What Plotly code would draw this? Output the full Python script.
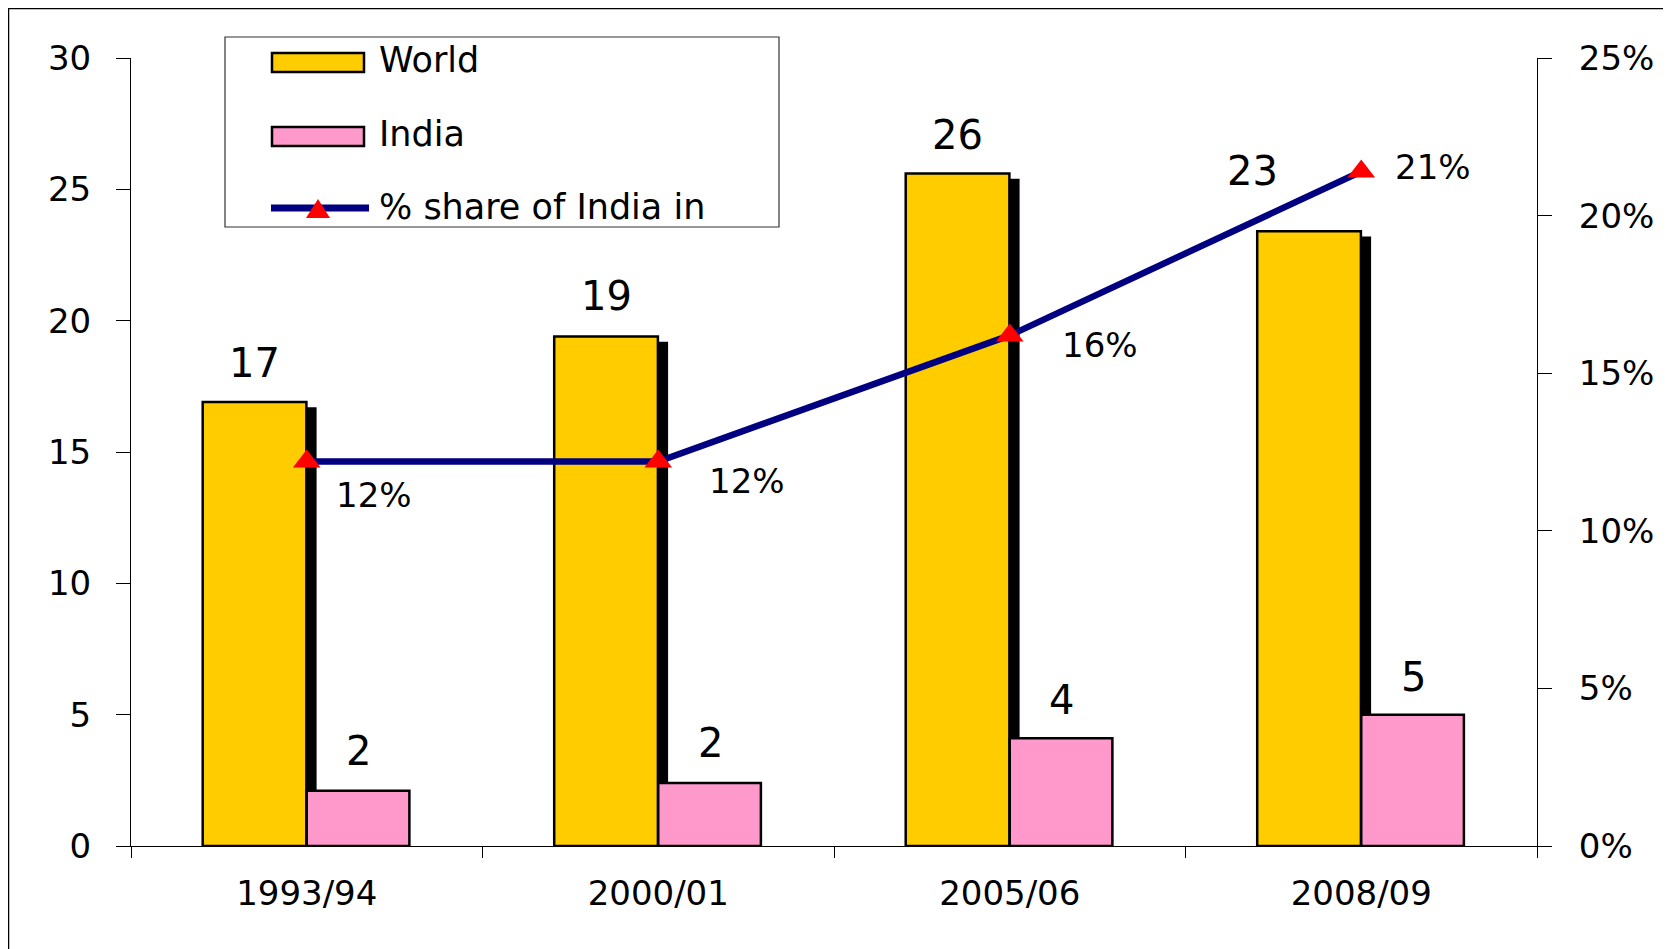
import plotly.graph_objects as go

# data
years = ["1993/94", "2000/01", "2005/06", "2008/09"]
world = [16.9, 19.4, 25.6, 23.4]
india = [2.1, 2.4, 4.1, 5.0]
share_pct = [12.2, 12.2, 16.2, 21.4]

FONT = "DejaVu Sans"
FS = 34
FS_BAR = 40

# the page body has an 8px margin, so the figure is drawn 8px in from the window corner
BODY = 8
WIN_W, WIN_H = 1671, 949
W, H = WIN_W - BODY, WIN_H - BODY
# plot area in window pixels
X0, X1, Y0, Y1 = 131, 1537, 58, 846
L, R, T, B = X0 - BODY, WIN_W - X1, Y0 - BODY, WIN_H - Y1
PW, PH = X1 - X0, Y1 - Y0


def px(x):
    # window pixel x -> paper x
    return (x - X0) / PW


def py(y):
    # window pixel y -> paper y
    return (Y1 - y) / PH


fig = go.Figure()

# drop shadow behind the World bars
fig.add_trace(go.Bar(
    x=years, y=world, base=-0.2,
    offset=-0.267, width=0.295,
    marker=dict(color="black", line=dict(width=0)),
    showlegend=False, hoverinfo="skip"
))

fig.add_trace(go.Bar(
    x=years, y=world, name="World",
    offset=-0.296, width=0.295,
    marker=dict(color="#FFCC00", line=dict(color="black", width=2.5))
))

fig.add_trace(go.Bar(
    x=years, y=india, name="India",
    offset=0.0, width=0.292,
    marker=dict(color="#FF99CC", line=dict(color="black", width=2.5))
))

fig.add_trace(go.Scatter(
    x=years, y=share_pct, name="% share of India in",
    yaxis="y2", mode="lines+markers",
    line=dict(color="#000080", width=6.5),
    marker=dict(symbol="triangle-up", size=24, color="#FF0000")
))

# value labels
world_shift = [(-52, 39), (-52, 40), (-52, 39), (-109, 60)]
india_shift = [(52, 40), (52, 40), (52, 38), (52, 38)]
share_shift = [(67, -34), (89, -20), (90, -10), (72, 4)]

ann = []
for yr, v, (dx, dy) in zip(years, world, world_shift):
    ann.append(dict(x=yr, y=v, xref="x", yref="y", text=f"{v:.0f}",
                    showarrow=False, xshift=dx, yshift=dy,
                    font=dict(family=FONT, size=FS_BAR, color="black")))
for yr, v, (dx, dy) in zip(years, india, india_shift):
    ann.append(dict(x=yr, y=v, xref="x", yref="y", text=f"{v:.0f}",
                    showarrow=False, xshift=dx, yshift=dy,
                    font=dict(family=FONT, size=FS_BAR, color="black")))
for yr, v, (dx, dy) in zip(years, share_pct, share_shift):
    ann.append(dict(x=yr, y=v, xref="x", yref="y2", text=f"{v:.0f}%",
                    showarrow=False, xshift=dx, yshift=dy,
                    font=dict(family=FONT, size=FS, color="black")))

# hand-drawn legend box, like the original
shapes = [
    # slide frame
    dict(type="rect", xref="paper", yref="paper", layer="below",
         x0=px(BODY + 0.5), x1=px(1665.5), y0=py(975), y1=py(BODY + 0.5),
         fillcolor="white", line=dict(color="black", width=1.5)),
    dict(type="rect", xref="paper", yref="paper",
         x0=px(225), x1=px(779), y0=py(227), y1=py(37),
         fillcolor="white", line=dict(color="#333333", width=1.2)),
    dict(type="rect", xref="paper", yref="paper",
         x0=px(272), x1=px(364), y0=py(72), y1=py(53),
         fillcolor="#FFCC00", line=dict(color="black", width=2.5)),
    dict(type="rect", xref="paper", yref="paper",
         x0=px(272), x1=px(364), y0=py(146), y1=py(127),
         fillcolor="#FF99CC", line=dict(color="black", width=2.5)),
    dict(type="line", xref="paper", yref="paper",
         x0=px(271), x1=px(369), y0=py(208), y1=py(208),
         line=dict(color="#000080", width=7)),
    dict(type="path", xref="paper", yref="paper",
         path=f"M {px(306)},{py(218)} L {px(330)},{py(218)} L {px(318)},{py(199)} Z",
         fillcolor="#FF0000", line=dict(width=0)),
]
for label, yc in [("World", 60), ("India", 134), ("% share of India in", 207)]:
    ann.append(dict(x=px(377), y=py(yc), xref="paper", yref="paper",
                    xanchor="left", yanchor="middle", text=label, showarrow=False,
                    font=dict(family=FONT, size=35, color="black")))

fig.update_layout(
    width=W, height=H,
    margin=dict(l=L, r=R, t=T, b=B, pad=0),
    paper_bgcolor="#F5F5E2",
    plot_bgcolor="rgba(0,0,0,0)",
    barmode="overlay",
    showlegend=False,
    font=dict(family=FONT, size=FS, color="black"),
    shapes=shapes,
    annotations=ann,
    xaxis=dict(
        type="category", range=[-0.5, 3.5], tickson="boundaries",
        ticks="outside", ticklen=11, tickcolor="black", tickwidth=1,
        showline=True, linecolor="black", linewidth=1,
        showgrid=False, zeroline=False, ticklabelstandoff=17,
        tickfont=dict(family=FONT, size=FS)
    ),
    yaxis=dict(
        range=[0, 30], dtick=5, ticks="outside", ticklen=14,
        tickcolor="black", tickwidth=1,
        showline=True, linecolor="black", linewidth=1,
        showgrid=False, zeroline=False, ticklabelstandoff=18,
        tickfont=dict(family=FONT, size=FS)
    ),
    yaxis2=dict(
        overlaying="y", side="right", range=[0, 25], dtick=5,
        ticksuffix="%", ticks="outside", ticklen=14,
        tickcolor="black", tickwidth=1,
        showline=True, linecolor="black", linewidth=1,
        showgrid=False, zeroline=False, ticklabelstandoff=20,
        tickfont=dict(family=FONT, size=FS)
    ),
    # inner halves of the crossing tick marks
    xaxis2=dict(
        overlaying="x", anchor="y", range=[-0.5, 3.5],
        tickvals=[-0.5, 0.5, 1.5, 2.5, 3.5], ticks="inside", ticklen=11,
        tickcolor="black", showticklabels=False, showgrid=False,
        zeroline=False, showline=False
    ),
    yaxis3=dict(
        overlaying="y", anchor="x", side="left", range=[0, 30], dtick=5,
        ticks="inside", ticklen=14, tickcolor="black",
        showticklabels=False, showgrid=False, zeroline=False, showline=False
    ),
    yaxis4=dict(
        overlaying="y", anchor="x", side="right", range=[0, 25], dtick=5,
        ticks="inside", ticklen=14, tickcolor="black",
        showticklabels=False, showgrid=False, zeroline=False, showline=False
    ),
)

fig.write_html("out.html")
